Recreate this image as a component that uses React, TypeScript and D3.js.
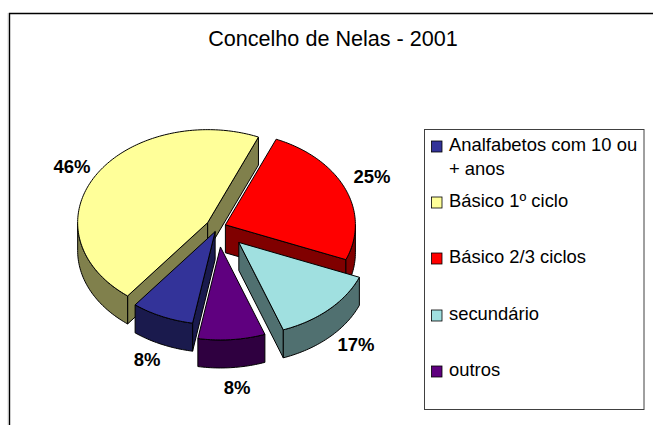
import React from "react";
import * as d3 from "d3";

const title = "Concelho de Nelas - 2001";
const categories = ["Analfabetos com 10 ou + anos", "Básico 1º ciclo", "Básico 2/3 ciclos", "secundário", "outros"];
const percentLabels = ["8%", "46%", "25%", "17%", "8%"];
// Apparent share of the drawn (perspective-distorted) ellipse, in degrees
const apparentShares = [28, 165, 89, 48, 30];
const explodeAmounts = [7, 12, 8, 30, 28];
const topColors = ["#333399", "#ffff99", "#ff0000", "#a0e0e0", "#5f007f"];
const sideColors = ["#1a1a4d", "#80804c", "#800000", "#507070", "#2f0040"];
const legendLines = [["Analfabetos com 10 ou", "+ anos"], ["Básico 1º ciclo"], ["Básico 2/3 ciclos"], ["secundário"], ["outros"]];
const legendBaselines = [151, 207, 263, 320, 376];
const labelAnchors = [[147, 366], [72, 173], [372, 183], [356, 351], [237, 394]];

const RX = 130, RY = 93, DEPTH = 28, CX = 218, CY = 227;
const START = (190 * Math.PI) / 180;

const pieGen = d3.pie<number>().sort(null).startAngle(START).endAngle(START + 2 * Math.PI);
const arcs = pieGen(apparentShares);
const line = d3.line<[number, number]>();

type Pt = [number, number];
const arcPoints = (cx: number, cy: number, a0: number, a1: number): Pt[] => {
  const n = Math.max(2, Math.ceil(Math.abs(a1 - a0) / 0.02));
  return d3.range(n + 1).map((i) => {
    const t = a0 + ((a1 - a0) * i) / n;
    return [cx + RX * Math.sin(t), cy - RY * Math.cos(t)] as Pt;
  });
};
const down = (pts: Pt[]): Pt[] => pts.map(([x, y]) => [x, y + DEPTH] as Pt).reverse();
const closed = (pts: Pt[]) => (line(pts) ?? "") + "Z";

const slices = arcs.map((a, i) => {
  const mid = (a.startAngle + a.endAngle) / 2;
  const cx = CX + explodeAmounts[i] * Math.sin(mid);
  const cy = CY - (explodeAmounts[i] * Math.cos(mid) * RY) / RX;
  const rim = arcPoints(cx, cy, a.startAngle, a.endAngle);
  const c: Pt = [cx, cy];
  const first = rim[0];
  const last = rim[rim.length - 1];
  const walls: string[] = [];
  const norm = (t: number) => ((t % (2 * Math.PI)) + 2 * Math.PI) % (2 * Math.PI);
  // Outer rim: visible where the rim faces the viewer (90° to 270°)
  const q = Math.PI / 2;
  const s = norm(a.startAngle);
  const e = s + (a.endAngle - a.startAngle);
  for (const shift of [0, 2 * Math.PI]) {
    const from = Math.max(s, q + shift);
    const to = Math.min(e, 3 * q + shift);
    if (to > from) {
      const p = arcPoints(cx, cy, from, to);
      walls.push(closed([...p, ...down(p)]));
    }
  }
  const radial = (edge: Pt) => closed([c, edge, [edge[0], edge[1] + DEPTH], [c[0], c[1] + DEPTH]]);
  const faces: string[] = [];
  if (i === 0) faces.push(radial(first));
  if (i === 1) faces.push(radial(first), radial(last));
  if (i === 2) faces.push(radial(last));
  if (i === 3) faces.push(radial(last));
  return { i, top: closed([c, ...rim]), walls, faces };
});

const drawOrder = [2, 1, 3, 0, 4];

export default function App() {
  return (
    <svg width={653} height={425} style={{ position: "absolute", left: 0, top: 0, background: "#fff" }} fontFamily="'Liberation Sans', Arial, sans-serif">
      <line x1={8} y1={13} x2={8} y2={425} stroke="#d8d8d8" strokeWidth={1} />
      <path d="M9.5 425V13.5H653" fill="none" stroke="#000" strokeWidth={1.4} />
      <text x={333} y={46} textAnchor="middle" fontSize={21.6} fill="#000">{title}</text>
      {drawOrder.map((k) => {
        const s = slices[k];
        return (
          <g key={k} stroke="#000" strokeWidth={1} strokeLinejoin="round">
            {s.faces.map((d, j) => <path key={"f" + j} d={d} fill={sideColors[k]} />)}
            {s.walls.map((d, j) => <path key={"w" + j} d={d} fill={sideColors[k]} />)}
            <path d={s.top} fill={topColors[k]} />
          </g>
        );
      })}
      {percentLabels.map((t, i) => (
        <text key={i} x={labelAnchors[i][0]} y={labelAnchors[i][1]} textAnchor="middle" fontSize={18.5} fontWeight="bold" fill="#000">{t}</text>
      ))}
      <rect x={424.5} y={129.5} width={219.5} height={280} fill="#fff" stroke="#404040" strokeWidth={1} />
      {categories.map((c, i) => (
        <g key={c}>
          <rect x={431.5} y={legendBaselines[i] - 10} width={10.5} height={11} fill={topColors[i]} stroke="#000" strokeWidth={0.8} />
          {legendLines[i].map((l, j) => (
            <text key={j} x={449} y={legendBaselines[i] + j * 24} fontSize={18.4} fill="#000">{l}</text>
          ))}
        </g>
      ))}
    </svg>
  );
}
